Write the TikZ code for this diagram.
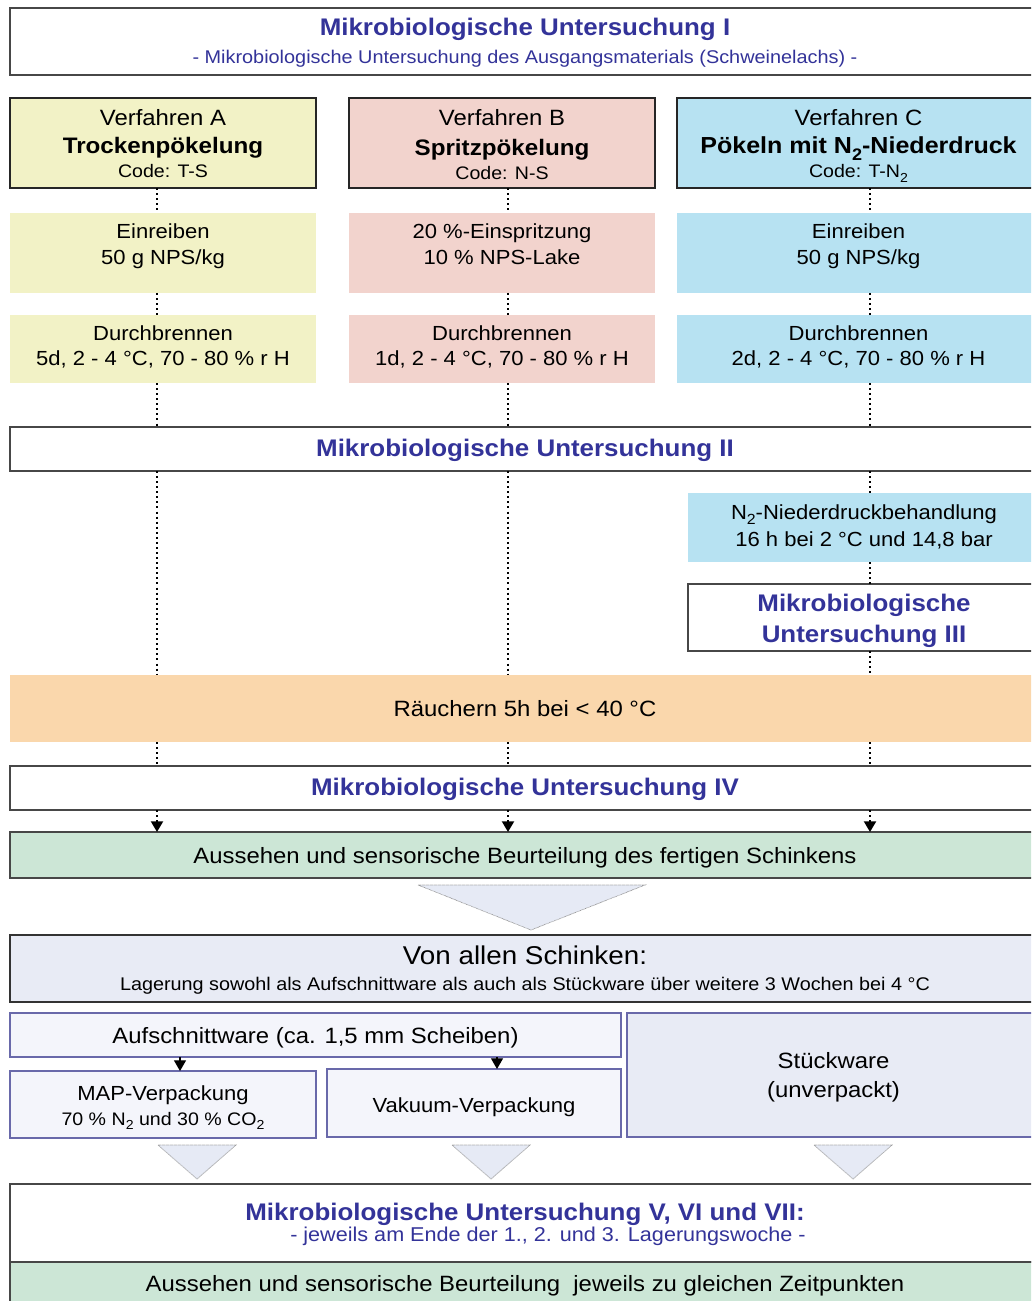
\documentclass[tikz,border=0pt]{standalone}
\usepackage{fontspec}
\usepackage{graphicx}
\setmainfont[FakeStretch=1.08]{Liberation Sans}
\usetikzlibrary{arrows.meta,calc}
\definecolor{mblue}{RGB}{51,51,153}
\definecolor{cyel}{RGB}{242,242,198}
\definecolor{cpink}{RGB}{242,211,205}
\definecolor{ccyan}{RGB}{183,226,242}
\definecolor{cpeach}{RGB}{250,215,172}
\definecolor{cgreen}{RGB}{204,230,214}
\definecolor{clav}{RGB}{232,235,245}
\definecolor{clight}{RGB}{244,245,251}
\definecolor{cbord}{RGB}{105,105,170}
\definecolor{ctri}{RGB}{230,234,245}
\newcommand\mysubs[1]{\raisebox{-0.27em}{\scalebox{0.72}{#1}}}
\begin{document}
\begin{tikzpicture}[x=0.75pt,y=-0.75pt,
  wh/.style 2 args={minimum width=#1*0.75pt, minimum height=#2*0.75pt},
  bx/.style={rectangle, inner sep=0pt, outer sep=0pt},
  frame/.style={bx, draw=black!72, line width=1.1pt, fill=white},
  cbox/.style={bx, draw=black!85, line width=0.8pt, fill=#1},
  plain/.style={bx, fill=#1},
  pbox/.style={bx, draw=cbord, line width=1.1pt, fill=#1},
  txt/.style={anchor=base, inner sep=0pt, text=black, font=\fontsize{16.6}{19}\selectfont},
  tmid/.style={anchor=base, inner sep=0pt, text=black, font=\fontsize{15.3}{18}\selectfont},
  tbold/.style={anchor=base, inner sep=0pt, text=black, font=\fontsize{16.8}{19}\selectfont\bfseries},
  tcode/.style={anchor=base, inner sep=0pt, text=black, font=\fontsize{13.6}{16}\selectfont},
  ttitle/.style={anchor=base, inner sep=0pt, text=mblue, font=\fontsize{18}{21}\selectfont\bfseries},
  tsub/.style={anchor=base, inner sep=0pt, text=mblue, font=\fontsize{13.8}{16}\selectfont},
  dotline/.style={line width=1.5pt, dash pattern=on 1.5pt off 2.3pt, black},
  arr/.style={-{Triangle[width=9pt,length=8pt]}},
  tri/.style={fill=ctri, draw=black!45, line width=0.5pt, dash pattern=on 0.5pt off 0.5pt}
]
\useasboundingbox (0,0) rectangle (1031,1301);
\clip (0,0) rectangle (1031,1301);
\fill[white] (0,0) rectangle (1031,1301);

% column coordinates
\coordinate (cA) at (157,0);
\coordinate (cB) at (508,0);
\coordinate (cC) at (870,0);
\coordinate (pA) at (180,0);
\coordinate (pB) at (497,0);

% boxes
\node[frame, wh={1030}{67}] (top) at (525,41.5) {};
\node[cbox=cyel,  wh={306}{90}] (vA) at (163,143) {};
\node[cbox=cpink, wh={306}{90}] (vB) at (502,143) {};
\node[cbox=ccyan, wh={363}{90}] (vC) at (858.5,143) {};
\node[plain=cyel,  wh={306}{80}] (eA) at (163,253) {};
\node[plain=cpink, wh={306}{80}] (eB) at (502,253) {};
\node[plain=ccyan, wh={363}{80}] (eC) at (858.5,253) {};
\node[plain=cyel,  wh={306}{68}] (dA) at (163,349) {};
\node[plain=cpink, wh={306}{68}] (dB) at (502,349) {};
\node[plain=ccyan, wh={363}{68}] (dC) at (858.5,349) {};
\node[frame, wh={1030}{44}] (mu2) at (525,449) {};
\node[plain=ccyan, wh={352}{69}] (n2) at (864,527.5) {};
\node[frame, wh={352}{67}] (mu3) at (864,617.5) {};
\node[plain=cpeach, wh={1030}{67}] (rauch) at (525,708.5) {};
\node[frame, wh={1030}{44}] (mu4) at (525,788) {};
\node[bx, draw=black!72, line width=1.1pt, fill=cgreen, wh={1030}{46}] (gr1) at (525,855) {};
\node[bx, draw=black!80, line width=1.1pt, fill=clav, wh={1030}{67}] (von) at (525,968.5) {};
\node[pbox=clight, wh={611}{44}] (auf) at (315.5,1035) {};
\node[pbox=clight, wh={306}{67}] (map) at (163,1104.5) {};
\node[pbox=clight, wh={294}{68}] (vak) at (474,1103) {};
\node[pbox=clav, wh={413}{124}] (stk) at (833.5,1075) {};
\node[frame, wh={1030}{78}] (mu5) at (525,1223) {};
\node[bx, draw=black!72, line width=1.1pt, fill=cgreen, wh={1030}{48}] (gr2) at (525,1286) {};

% dotted connectors
\foreach \c/\a/\b in {cA/vA/eA, cB/vB/eB, cC/vC/eC, cA/eA/dA, cB/eB/dB, cC/eC/dC,
  cA/dA/mu2, cB/dB/mu2, cC/dC/mu2, cA/mu2/rauch, cB/mu2/rauch, cC/mu2/n2, cC/n2/mu3, cC/mu3/rauch,
  cA/rauch/mu4, cB/rauch/mu4, cC/rauch/mu4}
  \draw[dotline] (\a.south -| \c) -- (\b.north -| \c);
\foreach \c in {cA,cB,cC}
  \draw[dotline, arr] (mu4.south -| \c) -- (gr1.north -| \c);
\foreach \c/\b in {pA/map, pB/vak}
  \draw[arr, line width=0.8pt] (auf.south -| \c) -- (\b.north -| \c);

% triangles
\draw[tri] (418,885) -- (645,885) -- (531,930) -- cycle;
\draw[tri] (158,1145) -- (236,1145) -- (197,1179) -- cycle;
\draw[tri] (452,1145) -- (530,1145) -- (491,1179) -- cycle;
\draw[tri] (814,1145) -- (892,1145) -- (853,1179) -- cycle;

% texts
\node[ttitle] (t1) at (525,36) {Mikrobiologische Untersuchung I};
\node[tsub] (t1s) at (525,64) {- Mikrobiologische Untersuchung des Ausgangsmaterials (Schweinelachs) -};

\node[txt] (vA1) at (163,126) {Verfahren A};
\node[tbold] (vA2) at (163,154) {Trockenpökelung};
\node[tcode] (vA3) at (163,178) {Code: T-S};
\node[txt] (vB1) at (502,126) {Verfahren B};
\node[tbold] (vB2) at (502,156) {Spritzpökelung};
\node[tcode] (vB3) at (502,180) {Code: N-S};
\node[txt] (vC1) at (858.5,126) {Verfahren C};
\node[tbold, font=\fontsize{17.4}{19}\selectfont\bfseries] (vC2) at (858.5,154) {Pökeln mit N\mysubs{2}-Niederdruck};
\node[tcode] (vC3) at (858.5,178) {Code: T-N\mysubs{2}};

\node[tmid] (eA1) at (163,239) {Einreiben};
\node[tmid] (eA2) at (163,265) {50 g NPS/kg};
\node[tmid] (eB1) at (502,239) {20 \%-Einspritzung};
\node[tmid] (eB2) at (502,265) {10 \% NPS-Lake};
\node[tmid] (eC1) at (858.5,239) {Einreiben};
\node[tmid] (eC2) at (858.5,265) {50 g NPS/kg};

\node[tmid] (dA1) at (163,341) {Durchbrennen};
\node[tmid] (dA2) at (163,366) {5d, 2 - 4 °C, 70 - 80 \% r H};
\node[tmid] (dB1) at (502,341) {Durchbrennen};
\node[tmid] (dB2) at (502,366) {1d, 2 - 4 °C, 70 - 80 \% r H};
\node[tmid] (dC1) at (858.5,341) {Durchbrennen};
\node[tmid] (dC2) at (858.5,366) {2d, 2 - 4 °C, 70 - 80 \% r H};

\node[ttitle] (t2) at (525,456) {Mikrobiologische Untersuchung II};
\node[tmid] (n2a) at (864,519) {N\mysubs{2}-Niederdruckbehandlung};
\node[tmid] (n2b) at (864,546) {16 h bei 2 °C und 14,8 bar};
\node[ttitle] (t3a) at (864,611) {Mikrobiologische};
\node[ttitle] (t3b) at (864,642) {Untersuchung III};
\node[txt] (tr) at (525,716) {Räuchern 5h bei < 40 °C};
\node[ttitle] (t4) at (525,795) {Mikrobiologische Untersuchung IV};
\node[txt] (tg1) at (525,863) {Aussehen und sensorische Beurteilung des fertigen Schinkens};

\node[anchor=base, inner sep=0pt, font=\fontsize{19.3}{22}\selectfont] (tv1) at (525,964) {Von allen Schinken:};
\node[tcode, font=\fontsize{13.75}{16}\selectfont] (tv2) at (525,990) {Lagerung sowohl als Aufschnittware als auch als Stückware über weitere 3 Wochen bei 4 °C};
\node[txt] (ta) at (315.5,1043) {Aufschnittware (ca. 1,5 mm Scheiben)};
\node[tmid] (tm1) at (163,1100) {MAP-Verpackung};
\node[tcode] (tm2) at (163,1125) {70 \% N\mysubs{2} und 30 \% CO\mysubs{2}};
\node[tmid] (tk) at (474,1112) {Vakuum-Verpackung};
\node[txt] (ts1) at (833.5,1068) {Stückware};
\node[txt] (ts2) at (833.5,1097) {(unverpackt)};

\node[ttitle] (t5) at (525,1220) {Mikrobiologische Untersuchung V, VI und VII:};
\node[anchor=base, inner sep=0pt, text=mblue, font=\fontsize{15}{18}\selectfont] (t5s) at (548,1241) {- jeweils am Ende der 1., 2. und 3. Lagerungswoche -};
\node[txt] (tg2) at (525,1291) {Aussehen und sensorische Beurteilung\ \ jeweils zu gleichen Zeitpunkten};
\end{tikzpicture}
\end{document}
